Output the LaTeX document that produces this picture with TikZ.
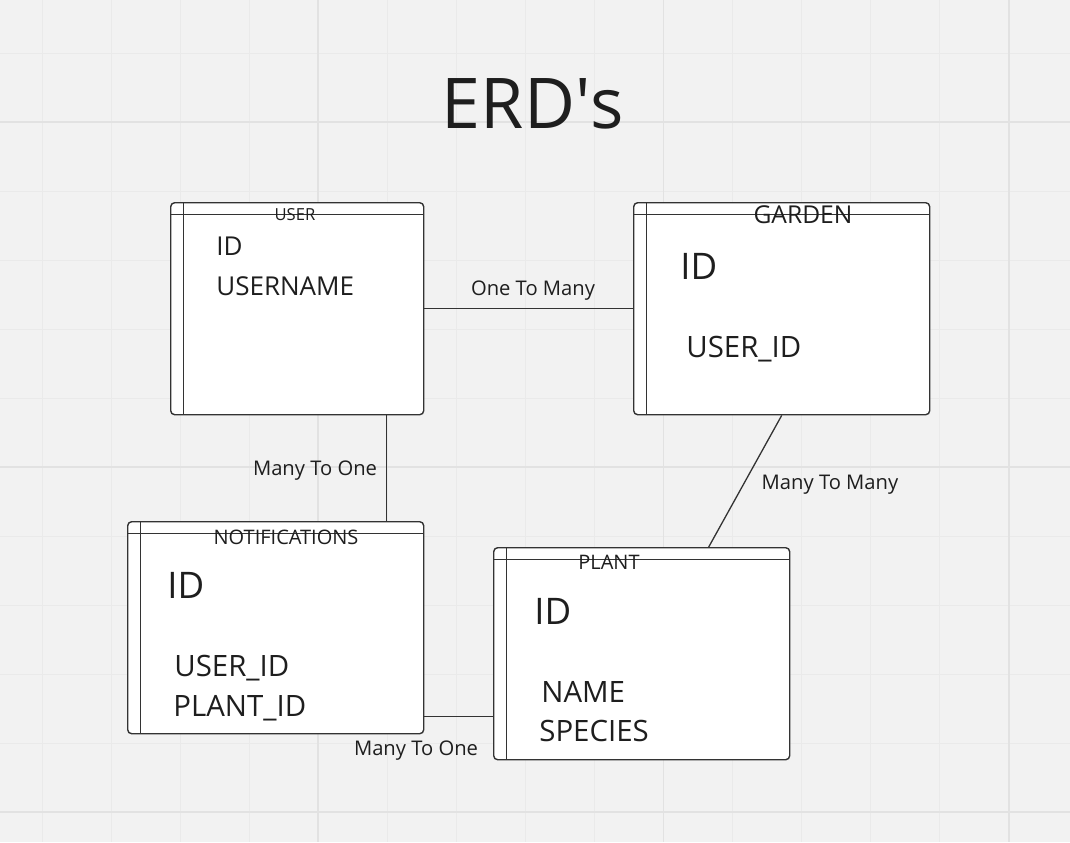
\documentclass[tikz,border=0pt]{standalone}
\usepackage{fontspec}
\setmainfont{Open Sans}
\usetikzlibrary{positioning}

\definecolor{boardgray}{HTML}{F2F2F2}
\definecolor{minorgray}{HTML}{EAEAEA}
\definecolor{majorgray}{HTML}{E2E2E2}
\definecolor{inkgray}{HTML}{333333}
\definecolor{textgray}{HTML}{1E1E1E}

\tikzset{
  table/.style={draw=inkgray, fill=white, line width=0.7pt, rounded corners=2pt,
    inner sep=0pt, anchor=north west, minimum width=148pt, minimum height=106pt,
    path picture={
      \draw[inkgray, line width=0.7pt] ([yshift=-6pt]path picture bounding box.north west)
        -- ([yshift=-6pt]path picture bounding box.north east);
      \draw[inkgray, line width=0.7pt] ([xshift=6.5pt]path picture bounding box.north west)
        -- ([xshift=6.5pt]path picture bounding box.south west);}},
  tabletitle/.style={anchor=base, inner sep=0pt, text=textgray},
  field/.style={anchor=base west, inner sep=0pt, text=textgray, font=\fontsize{14.7pt}{17pt}\selectfont},
  bigfield/.style={field, font=\fontsize{18.3pt}{21pt}\selectfont},
  relation/.style={anchor=base, inner sep=0pt, text=textgray, font=\fontsize{10.1pt}{12pt}\selectfont},
  link/.style={draw=inkgray, line width=0.65pt}
}

\begin{document}
\begin{tikzpicture}[x=0.5pt, y=-0.5pt]
    %the board
    \useasboundingbox (0,0) rectangle (1070,842);
    \fill[boardgray] (0,0) rectangle (1070,842);
    \foreach \i in {0,...,15}
       \draw[minorgray, line width=0.5pt] ({42+69.05*\i},0) -- ++(0,842);
    \foreach \j in {0,...,11}
       \draw[minorgray, line width=0.5pt] (0,{53+69*\j}) -- ++(1070,0);
    \foreach \i in {4,9,14}
       \draw[majorgray, line width=0.8pt] ({42+69.05*\i},0) -- ++(0,842);
    \foreach \j in {1,6,11}
       \draw[majorgray, line width=0.8pt] (0,{53+69*\j}) -- ++(1070,0);

    %the heading
    \node[anchor=base, inner sep=0pt, text=textgray, font=\fontsize{35pt}{40pt}\selectfont] (heading) at (533,128) {ERD\textquotesingle s};

    %the tables
    \node[table, minimum width=126.5pt] (user) at (170,202) {};
    \node[table] (garden) at (633,202) {};
    \node[table] (notif) at (127,521) {};
    \node[table] (plant) at (493,547) {};

    %the table names
    \node[tabletitle, font=\fontsize{8.3pt}{10pt}\selectfont] (userttl) at (295,220) {USER};
    \node[tabletitle, font=\fontsize{12.3pt}{14pt}\selectfont] (gardenttl) at (803,223) {GARDEN};
    \node[tabletitle, font=\fontsize{10pt}{12pt}\selectfont] (notifttl) at (286,544) {NOTIFICATIONS};
    \node[tabletitle, font=\fontsize{10pt}{12pt}\selectfont] (plantttl) at (609,569) {PLANT};

    %the fields
    \node[field, font=\fontsize{13pt}{15pt}\selectfont] (userid) at (216,255) {ID};
    \node[field, font=\fontsize{13pt}{15pt}\selectfont] (username) at (216,295) {USERNAME};
    \node[bigfield] (gardenid) at (680,279) {ID};
    \node[field] (gardenuser) at (686,357) {USER\_ID};
    \node[bigfield] (notifid) at (167,598) {ID};
    \node[field] (notifuser) at (174,676) {USER\_ID};
    \node[field] (notifplant) at (173,716) {PLANT\_ID};
    \node[bigfield] (plantid) at (534,624) {ID};
    \node[field] (plantname) at (541,702) {NAME};
    \node[field] (plantspecies) at (539,741) {SPECIES};

    %the relations
    \draw[link] (user) -- (garden);
    \draw[link] ([xshift=-19pt]user.south east) -- ([xshift=-19pt]notif.north east);
    \draw[link] (garden.south) -- ([xshift=33.5pt]plant.north);
    \coordinate (np) at ([yshift=9pt]notif.south east);
    \draw[link] (np) -- (np -| plant.west);

    %the cardinalities
    \node[relation] (onemany) at (533,295) {One To Many};
    \node[relation] (manyone) at (315,475) {Many To One};
    \node[relation] (manymany) at (830,489) {Many To Many};
    \node[relation] (manyonetwo) at (416,755) {Many To One};
\end{tikzpicture}
\end{document}
